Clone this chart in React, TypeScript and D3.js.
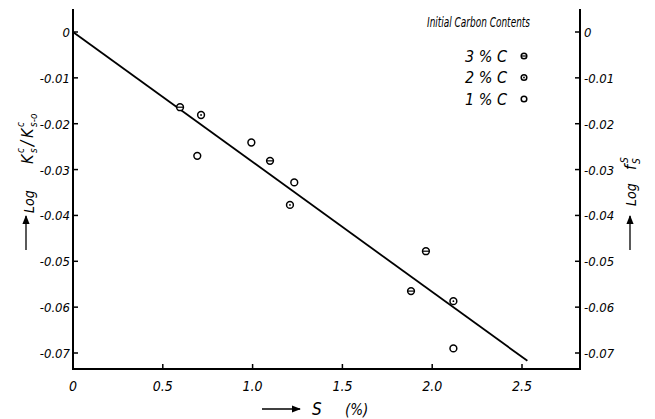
import React from "react";
import * as d3 from "d3";

const xTicks = [0, 0.5, 1.0, 1.5, 2.0, 2.5];
const xTickLabels = ["0", "0.5", "1.0", "1.5", "2.0", "2.5"];
const yTicks = [0, -0.01, -0.02, -0.03, -0.04, -0.05, -0.06, -0.07];
const yTickLabels = ["0", "-0.01", "-0.02", "-0.03", "-0.04", "-0.05", "-0.06", "-0.07"];

// data points: S (%), log value, initial carbon group
const pointS = [0.596, 0.713, 0.692, 0.993, 1.097, 1.232, 1.208, 1.965, 1.882, 2.118, 2.118];
const pointLog = [-0.0164, -0.0181, -0.027, -0.0241, -0.0281, -0.0328, -0.0377, -0.0478, -0.0565, -0.0587, -0.069];
const pointGroup = ["3", "2", "1", "1", "3", "1", "2", "3", "3", "2", "1"];

const lineS = [0, 2.53];
const lineLog = [0, -0.0717];

const legendTitle = "Initial Carbon Contents";
const legendLabels = ["3 % C", "2 % C", "1 % C"];
const legendGroups = ["3", "2", "1"];

const W = 655, H = 419;
const X0 = 73, XR = 580, YT = 9, YB = 369;

const x = d3.scaleLinear().domain([0, 2.5]).range([73, 522]);
const y = d3.scaleLinear().domain([0, -0.07]).range([32, 353]);

const FONT = "'Liberation Sans Narrow', 'DejaVu Sans Condensed', 'Liberation Sans', sans-serif";

function Marker({ cx, cy, r, g }: { cx: number; cy: number; r: number; g: string }) {
  return (
    <g>
      <circle cx={cx} cy={cy} r={r} fill="white" stroke="black" strokeWidth={1.5} />
      {g === "3" && <line x1={cx - r} x2={cx + r} y1={cy} y2={cy} stroke="black" strokeWidth={1.2} />}
      {g === "2" && <circle cx={cx} cy={cy} r={0.9} fill="black" />}
    </g>
  );
}

export default function App() {
  const linePath = d3.line<number>()((lineS.map((s, i) => [x(s), y(lineLog[i])]) as any)) || "";
  return (
    <svg width={W} height={H} style={{ position: "absolute", left: 0, top: 0, background: "white" }} fontFamily={FONT}>
      <rect width={W} height={H} fill="white" />
      {/* axes frame */}
      <line x1={X0} x2={X0} y1={YT} y2={YB} stroke="black" strokeWidth={2} />
      <line x1={XR} x2={XR} y1={YT} y2={YB} stroke="black" strokeWidth={2} />
      <line x1={X0 - 1} x2={XR + 1} y1={YB} y2={YB} stroke="black" strokeWidth={2} />

      {/* y ticks left and right */}
      {yTicks.map((t, i) => (
        <g key={"yt" + i}>
          <line x1={X0} x2={X0 + 5} y1={y(t)} y2={y(t)} stroke="black" strokeWidth={1.5} />
          <text x={X0 - 3} y={y(t) + 5} textAnchor="end" fontSize={13} fontStyle="italic">{yTickLabels[i]}</text>
          <line x1={XR - 5} x2={XR} y1={y(t)} y2={y(t)} stroke="black" strokeWidth={1.5} />
          <text x={XR + 4} y={y(t) + 5} textAnchor="start" fontSize={13} fontStyle="italic">{yTickLabels[i]}</text>
        </g>
      ))}

      {/* x ticks */}
      {xTicks.map((t, i) => (
        <g key={"xt" + i}>
          {t > 0 && <line x1={x(t)} x2={x(t)} y1={YB - 5} y2={YB} stroke="black" strokeWidth={1.5} />}
          <text x={x(t)} y={YB + 22} textAnchor="middle" fontSize={14} fontStyle="italic">{xTickLabels[i]}</text>
        </g>
      ))}

      {/* regression line */}
      <path d={linePath} stroke="black" strokeWidth={1.8} fill="none" />

      {/* points */}
      {pointS.map((s, i) => (
        <Marker key={"p" + i} cx={x(s)} cy={y(pointLog[i])} r={3.4} g={pointGroup[i]} />
      ))}

      {/* legend */}
      <text x={530} y={27} textAnchor="end" fontSize={14} fontStyle="italic" textLength={103} lengthAdjust="spacingAndGlyphs">{legendTitle}</text>
      {legendLabels.map((l, i) => (
        <g key={"lg" + i}>
          <text x={507} y={61.5 + i * 21.7} textAnchor="end" fontSize={16} fontStyle="italic">{l}</text>
          <Marker cx={524} cy={56 + i * 21.5} r={2.8} g={legendGroups[i]} />
        </g>
      ))}

      {/* x axis title */}
      <defs>
        <marker id="ah" viewBox="0 0 10 10" refX={9} refY={5} markerWidth={7} markerHeight={7} orient="auto">
          <path d="M0,1 L10,5 L0,9 Z" fill="black" />
        </marker>
      </defs>
      <line x1={262} x2={300} y1={409} y2={409} stroke="black" strokeWidth={1.3} markerEnd="url(#ah)" />
      <text x={312} y={415} fontSize={17} fontStyle="italic">S</text>
      <text x={345} y={415} fontSize={15} fontStyle="italic">(%)</text>

      {/* left y title */}
      <line x1={26} x2={26} y1={250} y2={216} stroke="black" strokeWidth={1.3} markerEnd="url(#ah)" />
      <g transform="translate(34,213) rotate(-90)">
        <text x={0} y={0} fontSize={14} fontStyle="italic">Log</text>
      </g>
      <g transform="translate(33,164) rotate(-90)" fontStyle="italic">
        <text x={0} y={0} fontSize={16}>K</text>
        <text x={11} y={-9} fontSize={10}>c</text>
        <text x={11} y={4} fontSize={10}>s</text>
        <text x={18} y={0} fontSize={17}>/</text>
        <text x={26} y={0} fontSize={16}>K</text>
        <text x={37} y={-9} fontSize={10}>c</text>
        <text x={37} y={4} fontSize={10}>s-o</text>
      </g>

      {/* right y title */}
      <line x1={630} x2={630} y1={250} y2={216} stroke="black" strokeWidth={1.3} markerEnd="url(#ah)" />
      <g transform="translate(636,206) rotate(-90)">
        <text x={0} y={0} fontSize={14} fontStyle="italic">Log</text>
      </g>
      <g transform="translate(636,170) rotate(-90)" fontStyle="italic">
        <text x={0} y={0} fontSize={16}>f</text>
        <text x={7} y={-8} fontSize={10}>S</text>
        <text x={6} y={4} fontSize={10}>S</text>
      </g>
    </svg>
  );
}
